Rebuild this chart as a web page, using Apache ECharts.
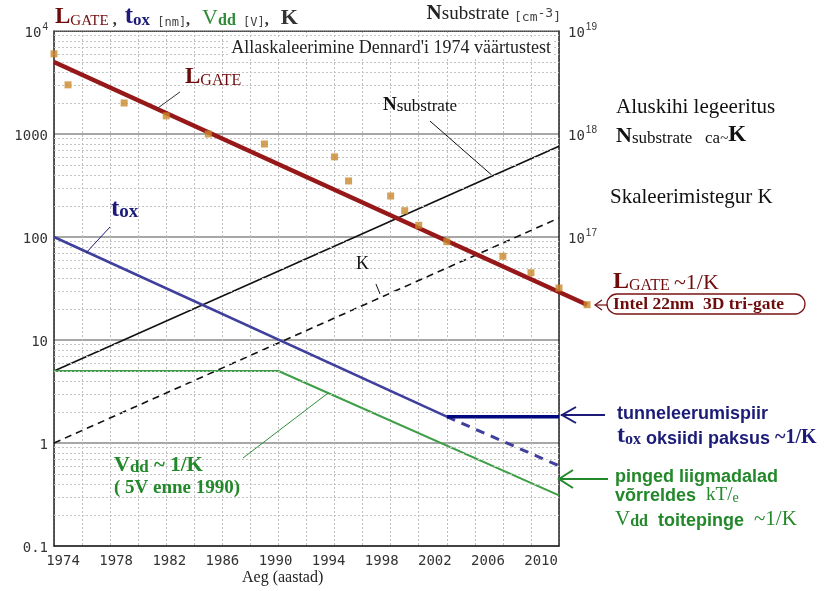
<!DOCTYPE html>
<html>
<head>
<meta charset="utf-8">
<script src="https://cdn.jsdelivr.net/npm/echarts@6/dist/echarts.min.js"></script>
<style>
  html, body { margin: 0; padding: 0; background: #fff; }
  #chart { width: 831px; height: 591px; }
</style>
</head>
<body>
<div id="chart"></div>
<script>
// Year axis: gridlines every 2 years, labels every 4 years
const yearTicks = [1974, 1978, 1982, 1986, 1990, 1994, 1998, 2002, 2006, 2010];
const leftDecades = [0.1, 1, 10, 100, 1000, 10000];
const rightLabelDecades = [1e17, 1e18, 1e19];
const minorGridValues = [
  0.2, 0.3, 0.4, 0.5, 0.6, 0.7, 0.8, 0.9,
  2, 3, 4, 5, 6, 7, 8, 9,
  20, 30, 40, 50, 60, 70, 80, 90,
  200, 300, 400, 500, 600, 700, 800, 900,
  2000, 3000, 4000, 5000, 6000, 7000, 8000, 9000
];

// Gate length [nm]: measured devices
const lgateYears  = [1974, 1975, 1979, 1982, 1985, 1989, 1994, 1995, 1998, 1999, 2000, 2002, 2006, 2008, 2010, 2012];
const lgateValues = [6000, 3000, 2000, 1500, 1000, 800, 600, 350, 250, 180, 130, 90, 65, 45, 32, 22];
// Gate length trend ~1/K
const lgateTrendYears  = [1974, 2012];
const lgateTrendValues = [5000, 22];

// Oxide thickness [nm]
const toxYears  = [1974, 2002];
const toxValues = [100, 1.8];
const toxLimitYears  = [2002, 2010];
const toxLimitValues = [1.8, 1.8];
const toxScaledYears  = [2002, 2010];
const toxScaledValues = [1.8, 0.6];

// Supply voltage [V]
const vddYears  = [1974, 1990, 2010];
const vddValues = [5, 5, 0.31];

// Substrate doping [cm-3] (right axis)
const nsubYears  = [1974, 2010];
const nsubValues = [5e15, 7.6e17];

// Scaling factor K
const kYears  = [1974, 2010];
const kValues = [1, 153];

// Label leader lines [year, value]
const leaderLgate = [[1982.98, 2560], [1981.41, 1790]];
const leaderNsub  = [[2000.8, 1336], [2005.2, 400]];
const leaderTox   = [[1977.99, 125], [1976.28, 70]];
const leaderK     = [[1996.95, 35], [1997.24, 28]];
const leaderVdd   = [[1987.47, 0.714], [1993.53, 3.05]];

const zip = (xs, ys) => xs.map((x, i) => [x, ys[i]]);

const SERIF = '"Liberation Serif", "DejaVu Serif", serif';
const SANS = '"Liberation Sans", Arial, sans-serif';
const MONO = '"DejaVu Sans Mono", "Liberation Mono", monospace';

const RED = '#6e0c0c';
const NAVY = '#1c1c78';
const GREEN = '#22882a';

// Plot frame (pixels) and the wider frame that the gate-length trend runs into
const PLOT = { left: 54, top: 31, right: 559, bottom: 546 };
const yearMin = 1974, yearMax = 2010, yearExt = 2012;
const pxPerYear = (PLOT.right - PLOT.left) / (yearMax - yearMin);
const extRight = PLOT.left + (yearExt - yearMin) * pxPerYear;

const chart = echarts.init(document.getElementById('chart'), null, { renderer: 'canvas', width: 831, height: 591 });

function lineSeries(name, data, color, width, type, yAxisIndex, z, xAxisIndex) {
  return {
    name, type: 'line', data, xAxisIndex: xAxisIndex || 0, yAxisIndex: yAxisIndex || 0,
    symbol: 'none', clip: false, silent: true, z: z || 3,
    lineStyle: { color, width, type: type || 'solid' }
  };
}

function supLabel(v) {
  const e = Math.round(Math.log10(v));
  return '{n|10}{s|' + e + '}';
}

const axisRich = {
  n: { fontFamily: MONO, fontSize: 14, color: '#333', lineHeight: 18, verticalAlign: 'bottom' },
  s: { fontFamily: SANS, fontSize: 10, color: '#333', lineHeight: 18, verticalAlign: 'top', padding: [0, 0, 0, 1] }
};

function rt(family, size, color, weight, lh, va) {
  return { fontFamily: family, fontSize: size, fontWeight: weight || 'normal', fill: color, lineHeight: lh || 26, verticalAlign: va || 'bottom' };
}

const option = {
  animation: false,
  backgroundColor: '#fff',
  grid: [
    { left: PLOT.left, top: PLOT.top, right: 831 - PLOT.right, bottom: 591 - PLOT.bottom },
    { left: PLOT.left, top: PLOT.top, right: 831 - extRight, bottom: 591 - PLOT.bottom }
  ],
  xAxis: [
    {
      type: 'value', min: yearMin, max: yearMax, interval: 2, position: 'bottom', gridIndex: 0,
      axisLine: { show: true, lineStyle: { color: '#222', width: 1.5 } },
      axisTick: { show: false }, axisLabel: { show: false },
      splitLine: { show: true, lineStyle: { color: '#bdbdbd', width: 1, type: [2, 2] } }
    },
    {
      type: 'value', min: 1973.32, max: 2011.35, position: 'bottom', gridIndex: 0,
      axisLine: { show: false }, axisTick: { show: false }, splitLine: { show: false },
      axisLabel: {
        customValues: yearTicks, fontFamily: MONO, fontSize: 14, color: '#333', margin: 8,
        formatter: v => String(Math.round(v))
      }
    },
    {
      type: 'value', min: yearMin, max: yearMax, position: 'top', gridIndex: 0,
      axisLine: { show: true, lineStyle: { color: '#444', width: 1, type: [1, 1] } },
      axisTick: { show: false }, axisLabel: { show: false }, splitLine: { show: false }
    },
    {
      type: 'value', min: yearMin, max: yearExt, gridIndex: 1, show: false,
      splitLine: { show: false }
    }
  ],
  yAxis: [
    {
      type: 'log', logBase: 10, min: 0.1, max: 10000, position: 'left', gridIndex: 0,
      axisLine: { show: true, lineStyle: { color: '#222', width: 1.5 } },
      axisTick: { show: false },
      axisLabel: {
        margin: 6, rich: axisRich,
        formatter: v => {
          if (v >= 9999) return supLabel(v);
          const s = v < 1 ? '0.1' : String(Math.round(v));
          return '{n|' + s + '}';
        }
      },
      splitLine: { show: true, lineStyle: { color: '#8a8a8a', width: 1.6 } }
    },
    {
      type: 'log', logBase: 10, min: 1e14, max: 1e19, position: 'right', gridIndex: 0,
      axisLine: { show: true, lineStyle: { color: '#222', width: 1.5 } },
      axisTick: { show: false },
      splitLine: { show: false },
      axisLabel: {
        margin: 9, rich: axisRich,
        formatter: v => (v >= rightLabelDecades[0] * 0.999 ? supLabel(v) : '')
      }
    },
    {
      type: 'log', logBase: 10, min: 0.1, max: 10000, gridIndex: 1, show: false,
      splitLine: { show: false }
    }
  ],
  series: [
    {
      type: 'line', data: [], xAxisIndex: 0, yAxisIndex: 0, silent: true, z: 1,
      markLine: {
        silent: true, symbol: 'none', label: { show: false },
        lineStyle: { color: '#c4c4c4', width: 1, type: [2, 2] },
        data: minorGridValues.map(v => ({ yAxis: v }))
      }
    },
    lineSeries('Nsub', zip(nsubYears, nsubValues), '#111', 1.6, 'solid', 1, 3),
    lineSeries('K', zip(kYears, kValues), '#111', 1.6, [7, 5], 0, 3),
    lineSeries('Vdd', zip(vddYears, vddValues), '#3d9e46', 2, 'solid', 0, 4),
    lineSeries('toxScaled', zip(toxScaledYears, toxScaledValues), '#3f3f9e', 3, [9, 7], 0, 4),
    lineSeries('tox', zip(toxYears, toxValues), '#3f3f9e', 2.5, 'solid', 0, 5),
    lineSeries('toxLimit', zip(toxLimitYears, toxLimitValues), '#00087f', 3.5, 'solid', 0, 5),
    lineSeries('Lgate', zip(lgateTrendYears, lgateTrendValues), '#961818', 4.5, 'solid', 2, 6, 3),
    {
      name: 'LgateData', type: 'scatter', data: zip(lgateYears, lgateValues),
      xAxisIndex: 3, yAxisIndex: 2, symbol: 'rect', symbolSize: 7, clip: false, silent: true, z: 7,
      itemStyle: { color: '#c9882a' }
    },
    lineSeries('leaderLgate', leaderLgate, '#333', 1, 'solid', 0, 6),
    lineSeries('leaderNsub', leaderNsub, '#111', 1, 'solid', 0, 6),
    lineSeries('leaderTox', leaderTox, '#1c1c78', 1, 'solid', 0, 6),
    lineSeries('leaderK', leaderK, '#111', 1, 'solid', 0, 6),
    lineSeries('leaderVdd', leaderVdd, '#2f8f37', 1, 'solid', 0, 6)
  ],
  graphic: [
    // Header: quantities on the left axis
    {
      type: 'text', left: 55, top: 4, z: 20,
      style: {
        text: '{L|L}{g|GATE}{c| ,  }{t|t}{o|ox}{m| [nm]}{c|,   }{v|V}{d|dd}{m| [V]}{c|,   }{k|K}',
        rich: {
          L: rt(SERIF, 23, RED, 'bold'),
          g: rt(SERIF, 15, RED),
          c: rt(SERIF, 16, '#333', 'bold'),
          t: rt(SERIF, 25, NAVY, 'bold'),
          o: rt(SERIF, 17, NAVY, 'bold'),
          m: rt(MONO, 12, '#444'),
          v: rt(SERIF, 22, '#2e8a34'),
          d: rt(SERIF, 16, '#2e8a34', 'bold'),
          k: rt(SERIF, 22, '#333', 'bold')
        }
      }
    },
    // Header: right axis quantity
    {
      type: 'text', right: 831 - 561, top: 3, z: 20,
      style: {
        text: '{N|N}{s|substrate }{m|[cm}{e|-3}{m|]}',
        rich: {
          N: rt(SERIF, 21, '#222', 'bold', 26),
          s: rt(SERIF, 19, '#222', 'normal', 26),
          m: rt(MONO, 13, '#444', 'normal', 26),
          e: { fontFamily: MONO, fontSize: 13, fill: '#444', lineHeight: 26, verticalAlign: 'bottom', padding: [0, 0, 4, 0] }
        }
      }
    },
    {
      type: 'text', right: 831 - 553, top: 39, z: 20,
      style: {
        text: "Allaskaleerimine Dennard'i 1974 väärtustest",
        font: '18px ' + SERIF, fill: '#222', backgroundColor: '#fff', padding: [0, 2, 0, 2]
      }
    },
    // In-plot curve labels
    {
      type: 'text', left: 185, top: 66, z: 20,
      style: {
        text: '{L|L}{g|GATE}',
        rich: { L: rt(SERIF, 23, RED, 'bold'), g: rt(SERIF, 16, RED) }
      }
    },
    {
      type: 'text', left: 383, top: 96, z: 20,
      style: {
        text: '{N|N}{s|substrate}',
        rich: { N: rt(SERIF, 19, '#111', 'bold', 24), s: rt(SERIF, 17, '#111', 'normal', 24) }
      }
    },
    {
      type: 'text', left: 111, top: 197, z: 20,
      style: {
        text: '{t|t}{o|ox}',
        rich: { t: rt(SERIF, 25, NAVY, 'bold', 28), o: rt(SERIF, 19, NAVY, 'bold', 28) }
      }
    },
    {
      type: 'text', left: 356, top: 255, z: 20,
      style: { text: 'K', font: '18px ' + SERIF, fill: '#111' }
    },
    {
      type: 'text', left: 114, top: 454, z: 20,
      style: {
        text: '{v|V}{d|dd}{r| ~ 1/K}',
        rich: {
          v: rt(SERIF, 22, GREEN, 'bold', 26),
          d: rt(SERIF, 17, GREEN, 'bold', 26),
          r: rt(SERIF, 21, GREEN, 'bold', 26)
        }
      }
    },
    {
      type: 'text', left: 114, top: 479, z: 20,
      style: { text: '( 5V enne 1990)', font: 'bold 19px ' + SERIF, fill: GREEN }
    },
    // Right-hand notes
    {
      type: 'text', left: 616, top: 97, z: 20,
      style: { text: 'Aluskihi legeeritus', font: '21px ' + SERIF, fill: '#111' }
    },
    {
      type: 'text', left: 616, top: 124, z: 20,
      style: {
        text: '{N|N}{s|substrate   ca}{w|~}{k|K}',
        rich: {
          N: rt(SERIF, 22, '#111', 'bold', 26),
          s: rt(SERIF, 17, '#111', 'normal', 26),
          w: rt(SERIF, 15, '#111', 'normal', 26),
          k: rt(SERIF, 23, '#111', 'bold', 26)
        }
      }
    },
    {
      type: 'text', left: 610, top: 187, z: 20,
      style: { text: 'Skaleerimistegur K', font: '21px ' + SERIF, fill: '#111' }
    },
    {
      type: 'text', left: 613, top: 270, z: 20,
      style: {
        text: '{L|L}{g|GATE }{r|~1/K}',
        rich: { L: rt(SERIF, 24, RED, 'bold', 28), g: rt(SERIF, 16, RED, 'normal', 28), r: rt(SERIF, 22, RED, 'normal', 28) }
      }
    },
    {
      type: 'rect', z: 19,
      shape: { x: 607, y: 294, width: 198, height: 20, r: 10 },
      style: { fill: '#fff', stroke: '#7a1414', lineWidth: 1.3 }
    },
    {
      type: 'text', left: 613, top: 295, z: 20,
      style: { text: 'Intel 22nm  3D tri-gate', font: 'bold 17.5px ' + SERIF, fill: RED }
    },
    {
      type: 'polyline', z: 20,
      shape: { points: [[607, 305], [595, 305]] },
      style: { stroke: RED, lineWidth: 1.2, fill: null }
    },
    {
      type: 'polyline', z: 20,
      shape: { points: [[602, 300], [595, 305], [602, 310]] },
      style: { stroke: RED, lineWidth: 1.2, fill: null }
    },
    {
      type: 'text', left: 617, top: 405, z: 20,
      style: { text: 'tunneleerumispiir', font: 'bold 18px ' + SANS, fill: NAVY }
    },
    {
      type: 'text', left: 617, top: 424, z: 20,
      style: {
        text: '{t|t}{o|ox}{a| oksiidi paksus }{r|~1/K}',
        rich: {
          t: rt(SERIF, 24, NAVY, 'bold', 28),
          o: rt(SERIF, 16, NAVY, 'bold', 28),
          a: rt(SANS, 18, NAVY, 'bold', 28),
          r: rt(SERIF, 20, NAVY, 'bold', 28)
        }
      }
    },
    {
      type: 'polyline', z: 20,
      shape: { points: [[605, 415], [561, 415]] },
      style: { stroke: NAVY, lineWidth: 2, fill: null }
    },
    {
      type: 'polyline', z: 20,
      shape: { points: [[576, 407], [562, 415], [576, 423]] },
      style: { stroke: NAVY, lineWidth: 2, fill: null }
    },
    {
      type: 'text', left: 615, top: 468, z: 20,
      style: { text: 'pinged liigmadalad', font: 'bold 18px ' + SANS, fill: GREEN }
    },
    {
      type: 'text', left: 615, top: 486, z: 20,
      style: {
        text: '{a|võrreldes  }{k|kT/}{e|e}',
        rich: {
          a: rt(SANS, 18, GREEN, 'bold', 24),
          k: rt(SERIF, 19, GREEN, 'normal', 24),
          e: rt(SERIF, 14, GREEN, 'normal', 24)
        }
      }
    },
    {
      type: 'text', left: 615, top: 509, z: 20,
      style: {
        text: '{v|V}{d|dd}{a|  toitepinge  }{r|~1/K}',
        rich: {
          v: rt(SERIF, 21, GREEN, 'normal', 28),
          d: rt(SERIF, 16, GREEN, 'bold', 28),
          a: rt(SANS, 18, GREEN, 'bold', 28),
          r: rt(SERIF, 21, GREEN, 'normal', 28)
        }
      }
    },
    {
      type: 'polyline', z: 20,
      shape: { points: [[608, 479], [559, 479]] },
      style: { stroke: GREEN, lineWidth: 2, fill: null }
    },
    {
      type: 'polyline', z: 20,
      shape: { points: [[573, 470], [559, 479], [573, 488]] },
      style: { stroke: GREEN, lineWidth: 2, fill: null }
    },
    // Axis title
    {
      type: 'text', left: 242, top: 570, z: 20,
      style: { text: 'Aeg (aastad)', font: '16px ' + SERIF, fill: '#222' }
    }
  ]
};

chart.setOption(option);
</script>
</body>
</html>
